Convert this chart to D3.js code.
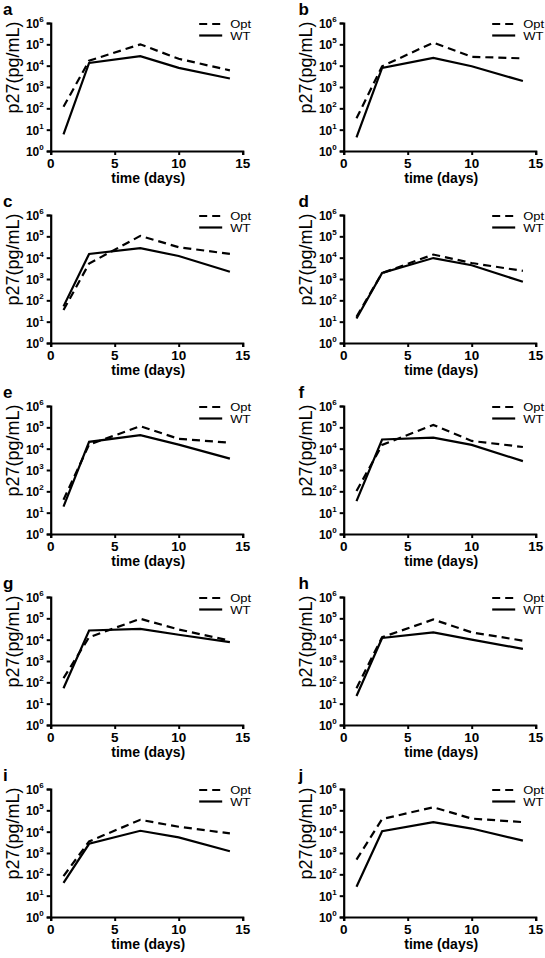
<!DOCTYPE html>
<html><head><meta charset="utf-8">
<script src="https://cdn.jsdelivr.net/npm/d3@7"></script>
<style>
body{margin:0;background:#fff;}
svg{display:block;font-family:"Liberation Sans",Arial,sans-serif;}
</style></head>
<body><svg id="c" width="545" height="958"></svg>
<script>
const panelLabels = ["a","b","c","d","e","f","g","h","i","j"];
const days = [1,3,7,10,14];
const seriesNames = ["Opt","WT"];
const xTicks = [0,5,10,15];
const yTicks = [1,10,100,1000,10000,100000,1000000];
// Opt (dashed) values per panel, pg/mL
const optValues = [
  [118, 17000, 100000, 21000, 6000],
  [34, 9400, 120000, 26000, 22000],
  [35, 5300, 105000, 31000, 15000],
  [17, 1900, 14000, 5600, 2400],
  [40, 15500, 113000, 29000, 19000],
  [104, 15000, 130000, 23000, 12000],
  [158, 13000, 95000, 30000, 9000],
  [53, 13000, 88000, 22000, 9000],
  [82, 3500, 36000, 17000, 8300],
  [490, 39000, 140000, 41000, 28000]
];
// WT (solid) values per panel, pg/mL
const wtValues = [
  [6, 13500, 28000, 7900, 2500],
  [4.4, 7900, 23000, 9400, 1900],
  [52, 15000, 28000, 12000, 2200],
  [14, 1900, 9600, 4400, 740],
  [19, 21000, 43000, 15500, 3400],
  [35, 27000, 33000, 15000, 2600],
  [53, 27000, 32000, 17000, 7600],
  [23, 12000, 22000, 10000, 3700],
  [40, 2700, 11000, 5400, 1200],
  [26, 10500, 28000, 14000, 3800]
];

const colLeft = [50.7, 343.7];
const rowTop = [23, 215, 406, 597, 789];
const W = 192, H = 128;
const svg = d3.select("#c");

panelLabels.forEach((lab, i) => {
  const col = i % 2, row = Math.floor(i / 2);
  const L = colLeft[col], T = rowTop[row];
  const g = svg.append("g").attr("transform", `translate(${L},${T})`);
  const x = d3.scaleLinear().domain([0, 15]).range([0, W]);
  const y = d3.scaleLog().domain([1, 1e6]).range([H, 0]);

  // y axis
  const ya = g.append("g").call(d3.axisLeft(y).tickValues(yTicks).tickSizeOuter(0).tickSize(4).tickFormat(""));
  ya.select(".domain").attr("stroke-width", 2.2).attr("stroke","#000");
  ya.selectAll(".tick line").attr("stroke-width", 2).attr("stroke","#000");
  yTicks.forEach(v => {
    const t = g.append("text").attr("x", -7).attr("y", y(v) + 5)
      .attr("text-anchor", "end").attr("font-weight", "bold").attr("font-size", 12);
    t.append("tspan").text("10");
    t.append("tspan").attr("font-size", 8).attr("dy", -6).text(String(Math.round(Math.log10(v))));
  });

  // x axis
  const xa = g.append("g").attr("transform", `translate(0,${H})`)
    .call(d3.axisBottom(x).tickValues(xTicks).tickSizeOuter(0).tickSize(4).tickFormat(""));
  xa.select(".domain").attr("stroke-width", 2.2).attr("stroke","#000");
  xa.selectAll(".tick line").attr("stroke-width", 2).attr("stroke","#000");
  xTicks.forEach(v => {
    g.append("text").attr("x", x(v)).attr("y", H + 16.5).attr("text-anchor", "middle")
      .attr("font-weight", "bold").attr("font-size", 13.5).text(v);
  });

  // titles
  g.append("text").attr("x", W / 2 + 1.5).attr("y", H + 31.5).attr("text-anchor", "middle")
    .attr("font-weight", "bold").attr("font-size", 14).text("time (days)");
  g.append("text").attr("transform", `translate(-32,44.5) rotate(-90)`)
    .attr("text-anchor", "middle").attr("font-size", 18).text("p27(pg/mL)");
  g.append("text").attr("x", (col === 0 ? 3 : 298.5) - L).attr("y", -8)
    .attr("font-weight", "bold").attr("font-size", 17).text(lab);

  // lines
  const line = d3.line().x((d, k) => x(days[k])).y(d => y(d));
  g.append("path").datum(optValues[i]).attr("d", line).attr("fill", "none")
    .attr("stroke", "#000").attr("stroke-width", 2.2).attr("stroke-dasharray", "8,5");
  g.append("path").datum(wtValues[i]).attr("d", line).attr("fill", "none")
    .attr("stroke", "#000").attr("stroke-width", 2.2);

  // legend
  const lx0 = 148.5, lx1 = 171.5, tx = 179.5;
  [[seriesNames[0], 1, "8,5"], [seriesNames[1], 12.5, null]].forEach(([name, ly, dash]) => {
    const ln = g.append("line").attr("x1", lx0).attr("x2", lx1).attr("y1", ly).attr("y2", ly)
      .attr("stroke", "#000").attr("stroke-width", 2.2);
    if (dash) ln.attr("stroke-dasharray", dash);
    g.append("text").attr("transform", `translate(${tx},${ly + 4.3}) scale(1,0.82)`)
      .attr("font-size", 13).text(name);
  });
});
</script></body></html>
